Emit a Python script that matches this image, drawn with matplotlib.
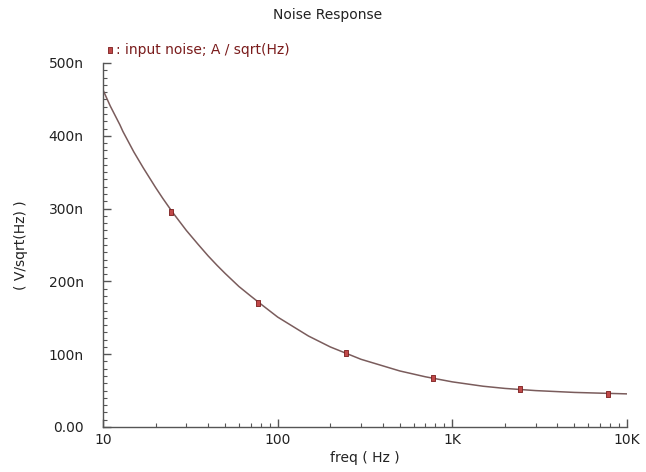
import numpy as np
import matplotlib
matplotlib.use('Agg')
import matplotlib.pyplot as plt
from matplotlib.ticker import FixedLocator, NullFormatter, MultipleLocator

# curve (Hz, V/sqrt(Hz))
freq = [10, 11, 12.5, 13, 15, 17, 20, 22, 25, 30, 35, 40, 45, 50, 60, 70, 80,
        100, 150, 200, 300, 500, 700, 1000, 1500, 2000, 3000, 5000, 7000, 10000]
noise_n = [463, 441, 415, 406, 378, 356, 329, 314, 295, 270, 251, 235, 222, 211,
           193, 180, 169, 151, 125, 110, 93, 77, 69, 62, 56, 53, 50, 47.5, 46.5, 45.5]

# marker positions on the trace
marker_freq = [24.5, 77.5, 245, 775, 2450, 7750]
marker_n = [295, 170, 102, 67, 52, 46]

x_ticks = [10, 100, 1000, 10000]
x_tick_labels = ['10', '100', '1K', '10K']
y_ticks = [0, 100e-9, 200e-9, 300e-9, 400e-9, 500e-9]
y_tick_labels = ['0.00', '100n', '200n', '300n', '400n', '500n']

line_color = '#7a5c5c'
mark_face = '#c04848'
mark_edge = '#7a1c1c'
text_red = '#7a1c1c'

rect = [(-0.6, -1), (0.6, -1), (0.6, 1), (-0.6, 1), (-0.6, -1)]

fig = plt.figure(figsize=(6.46, 4.72), dpi=100)
ax = fig.add_axes([103 / 646, 45 / 472, 524 / 646, 364 / 472])

ax.semilogx(freq, np.array(noise_n) * 1e-9, color=line_color, lw=1.1)
ax.plot(marker_freq, np.array(marker_n) * 1e-9, ls='none', marker=rect,
        ms=5, mfc=mark_face, mec=mark_edge, mew=0.6)

ax.set_xlim(10, 10000)
ax.set_ylim(0, 500e-9)

ax.xaxis.set_major_locator(FixedLocator(x_ticks))
ax.set_xticklabels(x_tick_labels)
ax.xaxis.set_minor_locator(FixedLocator(
    [m * d for d in [10, 100, 1000] for m in range(2, 10)]))
ax.xaxis.set_minor_formatter(NullFormatter())
ax.yaxis.set_major_locator(FixedLocator(y_ticks))
ax.set_yticklabels(y_tick_labels)
ax.yaxis.set_minor_locator(MultipleLocator(10e-9))

for side in ['top', 'right']:
    ax.spines[side].set_visible(False)
for side in ['left', 'bottom']:
    ax.spines[side].set_color('#555555')
    ax.spines[side].set_linewidth(1.0)

ax.tick_params(which='both', direction='in', color='#555555', labelsize=10,
               labelcolor='#222222')
ax.tick_params(which='major', length=6, width=1)
ax.tick_params(which='minor', length=3, width=0.8)
ax.tick_params(axis='x', pad=4)
ax.tick_params(axis='y', pad=14)

ax.set_xlabel('freq ( Hz )', fontsize=10, color='#222222', labelpad=3)
ax.set_ylabel('( V/sqrt(Hz) )', fontsize=10, color='#222222', labelpad=15)

fig.text(328 / 646, 1 - 15 / 472, 'Noise Response', ha='center', va='center',
         fontsize=10, color='#222222')

# legend line above the plot
fig.lines.append(plt.Line2D([110 / 646], [1 - 50 / 472], transform=fig.transFigure,
                            ls='none', marker=rect, ms=5, mfc=mark_face,
                            mec=mark_edge, mew=0.6))
fig.text(116 / 646, 1 - 50 / 472, ': input noise; A / sqrt(Hz)', ha='left',
         va='center', fontsize=10, color=text_red)

fig.savefig('out.png', dpi=100, facecolor='white')
